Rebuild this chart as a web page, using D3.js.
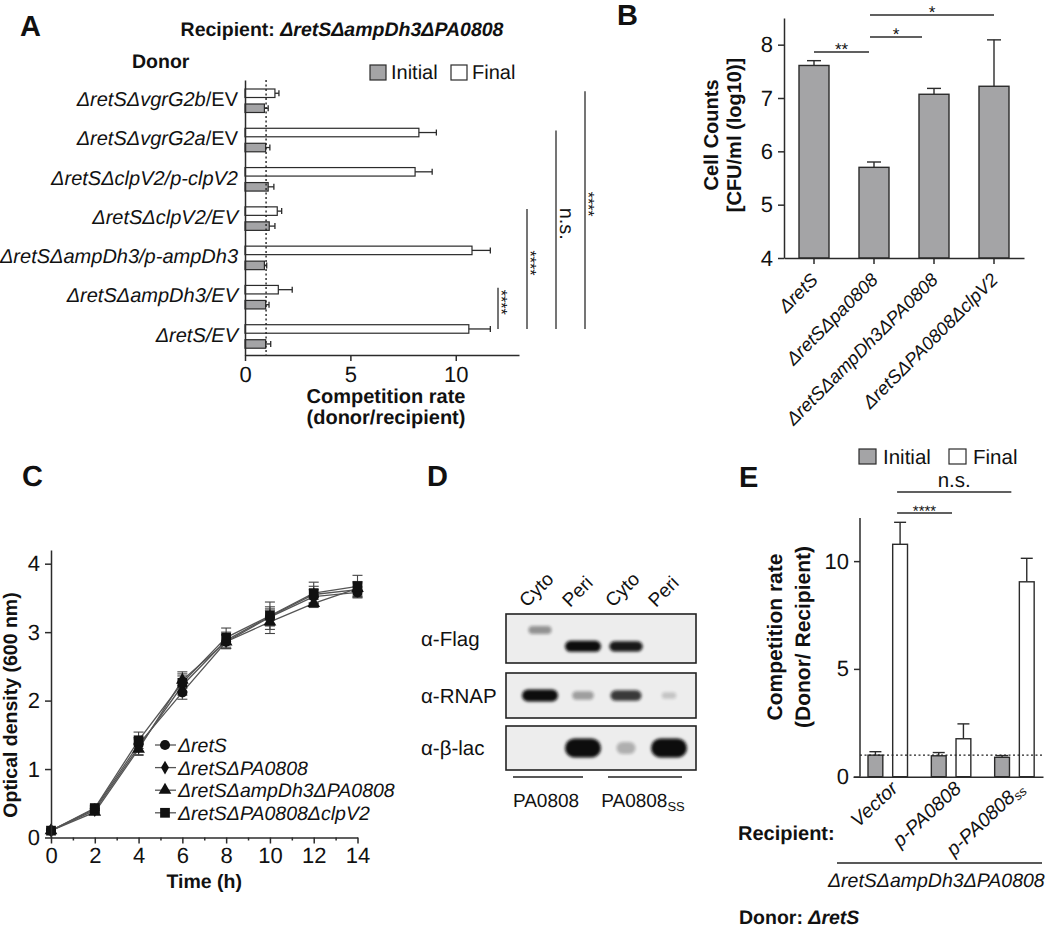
<!DOCTYPE html>
<html>
<head>
<meta charset="utf-8">
<script src="https://cdn.jsdelivr.net/npm/d3@7"></script>
<style>
body { margin: 0; background: #fff; }
svg { display: block; }
</style>
</head>
<body>
<svg width="1050" height="932"></svg>
<script>
// ---- data: panel A (competition, donors vs recipient ΔretSΔampDh3ΔPA0808)
var donorsA = ["ΔretSΔvgrG2b/EV", "ΔretSΔvgrG2a/EV", "ΔretSΔclpV2/p-clpV2", "ΔretSΔclpV2/EV",
               "ΔretSΔampDh3/p-ampDh3", "ΔretSΔampDh3/EV", "ΔretS/EV"];
var donorsAUpright = ["/EV", "/EV", "", "", "", "", ""];   // trailing part set in roman
var initialA = [0.92, 0.98, 1.10, 1.15, 0.92, 0.98, 0.98];
var initialAErr = [0.18, 0.20, 0.27, 0.27, 0.11, 0.16, 0.24];
var finalA = [1.42, 8.25, 8.07, 1.53, 10.77, 1.58, 10.62];
var finalAErr = [0.19, 0.83, 0.81, 0.21, 0.87, 0.66, 1.02];
var ticksA = [0, 5, 10];
var sigA = [
  {from: "ΔretSΔampDh3/EV", to: "ΔretS/EV", label: "****"},
  {from: "ΔretSΔclpV2/EV", to: "ΔretS/EV", label: "****"},
  {from: "ΔretSΔvgrG2a/EV", to: "ΔretS/EV", label: "n.s."},
  {from: "ΔretSΔvgrG2b/EV", to: "ΔretS/EV", label: "****"}
];

// ---- data: panel B (cell counts)
var strainsB = ["ΔretS", "ΔretSΔpa0808", "ΔretSΔampDh3ΔPA0808", "ΔretSΔPA0808ΔclpV2"];
var countsB = [7.61, 5.70, 7.07, 7.22];
var countsBErr = [0.09, 0.10, 0.11, 0.87];
var ticksB = [4, 5, 6, 7, 8];
var sigB = [
  {from: "ΔretS", to: "ΔretSΔpa0808", label: "**"},
  {from: "ΔretSΔpa0808", to: "ΔretSΔampDh3ΔPA0808", label: "*"},
  {from: "ΔretSΔpa0808", to: "ΔretSΔPA0808ΔclpV2", label: "*"}
];

// ---- data: panel C (growth curves)
var hoursC = [0, 2, 4, 6, 8, 10, 12, 14];
var seriesC = ["ΔretS", "ΔretSΔPA0808", "ΔretSΔampDh3ΔPA0808", "ΔretSΔPA0808ΔclpV2"];
var odRetS = [0.10, 0.42, 1.36, 2.12, 2.86, 3.22, 3.52, 3.58];
var odPA0808 = [0.10, 0.40, 1.32, 2.22, 2.88, 3.23, 3.55, 3.62];
var odAmpDh3 = [0.10, 0.37, 1.29, 2.30, 2.86, 3.15, 3.42, 3.64];
var odClpV2 = [0.10, 0.43, 1.42, 2.26, 2.92, 3.24, 3.57, 3.67];
var odRetSErr = [0.02, 0.03, 0.10, 0.10, 0.10, 0.12, 0.10, 0.08];
var odPA0808Err = [0.02, 0.03, 0.12, 0.14, 0.12, 0.14, 0.12, 0.10];
var odAmpDh3Err = [0.02, 0.03, 0.08, 0.12, 0.10, 0.17, 0.06, 0.10];
var odClpV2Err = [0.02, 0.04, 0.12, 0.13, 0.14, 0.20, 0.16, 0.16];
var ticksCX = [0, 2, 4, 6, 8, 10, 12, 14];
var minorCX = [1, 3, 5, 7, 9, 11, 13];
var ticksCY = [0, 1, 2, 3, 4];

// ---- data: panel D (western blot fractions)
var lanesD = ["Cyto", "Peri", "Cyto ", "Peri "];
var antibodiesD = ["α-Flag", "α-RNAP", "α-β-lac"];
var bandFlag = [0.25, 1.0, 0.8, 0.0];
var bandRNAP = [1.0, 0.2, 0.65, 0.03];
var bandBlac = [0.0, 1.0, 0.12, 1.0];
var samplesD = ["PA0808", "PA0808"];

// ---- data: panel E (competition, donor ΔretS)
var recipientsE = ["Vector", "p-PA0808", "p-PA0808ss"];
var initialE = [1.00, 0.97, 0.90];
var initialEErr = [0.16, 0.15, 0.08];
var finalE = [10.78, 1.76, 9.04];
var finalEErr = [1.02, 0.69, 1.09];
var ticksE = [0, 5, 10];
var sigE = [
  {from: "Vector", to: "p-PA0808", label: "****"},
  {from: "Vector", to: "p-PA0808ss", label: "n.s."}
];

var FONT = '"Liberation Sans", Arial, Helvetica, sans-serif';
var ink = "#2b2b2b", grayFill = "#a4a4a6";
var svg = d3.select("svg").attr("font-family", FONT).attr("fill", "#111")
  .attr("text-rendering", "geometricPrecision");
var fmt = d3.format("d");

function styleAxis(g, size) {
  g.attr("font-family", FONT);
  g.selectAll("path.domain").attr("stroke", ink).attr("stroke-width", 1.5);
  g.selectAll(".tick line").attr("stroke", ink).attr("stroke-width", 1.5);
  g.selectAll(".tick text").attr("fill", "#111").attr("font-size", size);
}

// panel letters
[["A", 20, 36], ["B", 617, 25], ["C", 22, 486], ["D", 427, 486], ["E", 739, 487]].forEach(function(p) {
  svg.append("text").attr("x", p[1]).attr("y", p[2]).attr("font-size", 29)
    .attr("font-weight", "bold").text(p[0]);
});

// ================= Panel A =================
(function() {
  var xA = d3.scaleLinear().domain([0, 13]).range([245, 519]);
  var yA = d3.scaleBand().domain(donorsA).range([80, 355]);
  var subA = d3.scaleBand().domain(["Final", "Initial"]).range([9, 39]);
  var bh = 8.5;
  var g = svg.append("g");

  var t = g.append("text").attr("x", 342).attr("y", 36).attr("text-anchor", "middle")
    .attr("font-size", 19.5).attr("font-weight", "bold");
  t.append("tspan").text("Recipient: ");
  t.append("tspan").attr("font-style", "italic").text("ΔretSΔampDh3ΔPA0808");

  g.append("text").attr("x", 132).attr("y", 68).attr("font-size", 19.5)
    .attr("font-weight", "bold").text("Donor");

  // legend
  [["Initial", grayFill, 370], ["Final", "#fff", 451]].forEach(function(l) {
    g.append("rect").attr("x", l[2]).attr("y", 65).attr("width", 16).attr("height", 15)
      .attr("fill", l[1]).attr("stroke", ink).attr("stroke-width", 1.2);
    g.append("text").attr("x", l[2] + 21).attr("y", 79).attr("font-size", 20).text(l[0]);
  });

  donorsA.forEach(function(d, i) {
    var y0 = yA(d);
    [["Final", finalA[i], finalAErr[i], "#fff"], ["Initial", initialA[i], initialAErr[i], grayFill]].forEach(function(b) {
      var yy = y0 + subA(b[0]);
      g.append("rect").attr("x", xA(0)).attr("y", yy).attr("width", xA(b[1]) - xA(0)).attr("height", bh)
        .attr("fill", b[3]).attr("stroke", ink).attr("stroke-width", 1.2);
      var cy = yy + bh / 2;
      g.append("line").attr("x1", xA(b[1])).attr("x2", xA(b[1] + b[2])).attr("y1", cy).attr("y2", cy)
        .attr("stroke", ink).attr("stroke-width", 1.3);
      g.append("line").attr("x1", xA(b[1] + b[2])).attr("x2", xA(b[1] + b[2])).attr("y1", cy - 3).attr("y2", cy + 3)
        .attr("stroke", ink).attr("stroke-width", 1.3);
    });
  });

  // reference line at 1
  g.append("line").attr("x1", xA(1)).attr("x2", xA(1)).attr("y1", 80).attr("y2", 355)
    .attr("stroke", "#222").attr("stroke-width", 1.4).attr("stroke-dasharray", "2,2.5");

  var ay = g.append("g").attr("transform", "translate(" + xA(0) + ",0)")
    .call(d3.axisLeft(yA).tickSize(0).tickPadding(7).tickSizeOuter(0));
  styleAxis(ay, 20);
  ay.selectAll(".tick text").each(function(d, i) {
    var s = d3.select(this), up = donorsAUpright[i];
    s.text(null);
    s.append("tspan").attr("font-style", "italic").text(up ? d.slice(0, d.length - up.length) : d);
    if (up) s.append("tspan").text(up);
  });

  var ax = g.append("g").attr("transform", "translate(0,355)")
    .call(d3.axisBottom(xA).tickValues(ticksA).tickFormat(fmt).tickSize(6).tickSizeOuter(0).tickPadding(5));
  styleAxis(ax, 22);

  g.append("text").attr("x", 386).attr("y", 403).attr("text-anchor", "middle").attr("font-size", 20)
    .attr("font-weight", "bold").text("Competition rate");
  g.append("text").attr("x", 386).attr("y", 424).attr("text-anchor", "middle").attr("font-size", 20)
    .attr("font-weight", "bold").text("(donor/recipient)");

  // significance brackets
  sigA.forEach(function(s, i) {
    var x = 498 + i * 29;
    var y1 = yA(s.from) + subA("Final") + bh / 2 - 2, y2 = yA(s.to) + subA("Final") + bh / 2;
    g.append("line").attr("x1", x).attr("x2", x).attr("y1", y1).attr("y2", y2)
      .attr("stroke", ink).attr("stroke-width", 1.3);
    var stars = s.label.indexOf("*") >= 0;
    g.append("text").attr("x", 0).attr("y", 0)
      .attr("transform", "translate(" + (x + (stars ? -2 : 4)) + "," + ((y1 + y2) / 2 - 6) + ") rotate(90)")
      .attr("text-anchor", "middle").attr("font-size", stars ? 16 : 20).attr("fill", "#111").text(s.label);
  });
})();

// ================= Panel B =================
(function() {
  var yB = d3.scaleLinear().domain([4, 8.5]).range([258, 18]);
  var xB = d3.scaleBand().domain(strainsB).range([784, 1024]).paddingInner(0.5).paddingOuter(0.25);
  var g = svg.append("g");

  strainsB.forEach(function(d, i) {
    var cx = xB(d) + xB.bandwidth() / 2;
    g.append("line").attr("x1", cx).attr("x2", cx).attr("y1", yB(countsB[i])).attr("y2", yB(countsB[i] + countsBErr[i]))
      .attr("stroke", ink).attr("stroke-width", 1.4);
    g.append("line").attr("x1", cx - 7).attr("x2", cx + 7).attr("y1", yB(countsB[i] + countsBErr[i])).attr("y2", yB(countsB[i] + countsBErr[i]))
      .attr("stroke", ink).attr("stroke-width", 1.4);
    g.append("rect").attr("x", xB(d)).attr("y", yB(countsB[i])).attr("width", xB.bandwidth())
      .attr("height", yB(4) - yB(countsB[i])).attr("fill", grayFill).attr("stroke", ink).attr("stroke-width", 1.4);
  });

  var ay = g.append("g").attr("transform", "translate(784,0)")
    .call(d3.axisLeft(yB).tickValues(ticksB).tickFormat(fmt).tickSize(6).tickSizeOuter(0).tickPadding(5));
  styleAxis(ay, 22);
  var ax = g.append("g").attr("transform", "translate(0,258)")
    .call(d3.axisBottom(xB).tickSize(6).tickSizeOuter(0).tickFormat(""));
  styleAxis(ax, 18);

  strainsB.forEach(function(d) {
    var cx = xB(d) + xB.bandwidth() / 2;
    g.append("text").attr("transform", "translate(" + (cx + 5) + ",281) rotate(-45)")
      .attr("text-anchor", "end").attr("font-size", 18.5).attr("font-style", "italic").text(d);
  });

  g.append("text").attr("transform", "translate(718,135) rotate(-90)").attr("text-anchor", "middle")
    .attr("font-size", 20).attr("font-weight", "bold").text("Cell Counts");
  g.append("text").attr("transform", "translate(741,135) rotate(-90)").attr("text-anchor", "middle")
    .attr("font-size", 20).attr("font-weight", "bold").text("[CFU/ml (log10)]");

  var levels = [52, 37, 15];
  sigB.forEach(function(s, i) {
    var x1 = xB(s.from) + xB.bandwidth() / 2 - (i ? 4 : 0);
    var x2 = xB(s.to) + xB.bandwidth() / 2 - (i === 1 ? 12 : 5);
    if (i === 2) x2 = xB(s.to) + xB.bandwidth() / 2;
    g.append("line").attr("x1", x1).attr("x2", x2).attr("y1", levels[i]).attr("y2", levels[i])
      .attr("stroke", ink).attr("stroke-width", 1.3);
    g.append("text").attr("x", (x1 + x2) / 2).attr("y", levels[i] + 3).attr("text-anchor", "middle")
      .attr("font-size", 17).text(s.label);
  });
})();

// ================= Panel C =================
(function() {
  var xC = d3.scaleLinear().domain([0, 14]).range([51, 357.5]);
  var yC = d3.scaleLinear().domain([0, 4.2]).range([837.5, 550]);
  var g = svg.append("g");
  var vals = [odRetS, odPA0808, odAmpDh3, odClpV2];
  var errs = [odRetSErr, odPA0808Err, odAmpDh3Err, odClpV2Err];
  var shapes = [d3.symbolCircle, d3.symbolDiamond, d3.symbolTriangle, d3.symbolSquare];
  var sizes = [80, 55, 70, 95];
  var lineC = d3.line().x(function(d) { return xC(d[0]); }).y(function(d) { return yC(d[1]); });

  vals.forEach(function(v, s) {
    var pts = hoursC.map(function(h, i) { return [h, v[i], errs[s][i]]; });
    pts.forEach(function(p) {
      var x = xC(p[0]);
      g.append("line").attr("x1", x).attr("x2", x).attr("y1", yC(p[1] - p[2])).attr("y2", yC(p[1] + p[2]))
        .attr("stroke", "#444").attr("stroke-width", 1.1);
      [p[1] - p[2], p[1] + p[2]].forEach(function(e) {
        g.append("line").attr("x1", x - 5).attr("x2", x + 5).attr("y1", yC(e)).attr("y2", yC(e))
          .attr("stroke", "#444").attr("stroke-width", 1.1);
      });
    });
    g.append("path").datum(pts).attr("d", lineC).attr("fill", "none")
      .attr("stroke", "#555").attr("stroke-width", 1.3);
  });
  vals.forEach(function(v, s) {
    hoursC.forEach(function(h, i) {
      g.append("path").attr("d", d3.symbol().type(shapes[s]).size(sizes[s]))
        .attr("transform", "translate(" + xC(h) + "," + yC(v[i]) + ")").attr("fill", "#111");
    });
  });

  var ay = g.append("g").attr("transform", "translate(" + xC(0) + ",0)")
    .call(d3.axisLeft(yC).tickValues(ticksCY).tickFormat(fmt).tickSize(6).tickSizeOuter(0).tickPadding(5));
  styleAxis(ay, 22);
  var ax = g.append("g").attr("transform", "translate(0," + yC(0) + ")")
    .call(d3.axisBottom(xC).tickValues(ticksCX).tickFormat(fmt).tickSize(6).tickSizeOuter(0).tickPadding(4));
  styleAxis(ax, 22);
  var am = g.append("g").attr("transform", "translate(0," + yC(0) + ")")
    .call(d3.axisBottom(xC).tickValues(minorCX).tickSize(3).tickFormat(""));
  styleAxis(am, 10);
  am.select("path.domain").remove();

  g.append("text").attr("transform", "translate(17,705) rotate(-90)").attr("text-anchor", "middle")
    .attr("font-size", 19.5).attr("font-weight", "bold").text("Optical density (600 nm)");
  g.append("text").attr("x", xC(7)).attr("y", 888).attr("text-anchor", "middle")
    .attr("font-size", 19.5).attr("font-weight", "bold").text("Time (h)");

  // legend
  seriesC.forEach(function(name, s) {
    var y = 745 + s * 22.6;
    g.append("line").attr("x1", 155).attr("x2", 176).attr("y1", y).attr("y2", y)
      .attr("stroke", "#555").attr("stroke-width", 1.3);
    g.append("path").attr("d", d3.symbol().type(shapes[s]).size(sizes[s]))
      .attr("transform", "translate(165," + y + ")").attr("fill", "#111");
    g.append("text").attr("x", 178).attr("y", y + 7).attr("font-size", 19.5)
      .attr("font-style", "italic").text(name);
  });
})();

// ================= Panel D =================
(function() {
  var g = svg.append("g");
  var lane = d3.scaleBand().domain(lanesD).range([518.5, 690.5]);
  var rowTop = [614, 673, 726], rowH = [49, 45, 44];
  var bandY = [0.66, 0.5, 0.5], bandH = [11, 12, 19];
  var bands = [bandFlag, bandRNAP, bandBlac];

  var defs = svg.append("defs");
  defs.append("filter").attr("id", "blur").attr("x", "-50%").attr("y", "-80%").attr("width", "200%").attr("height", "260%")
    .append("feGaussianBlur").attr("stdDeviation", 1.8);

  antibodiesD.forEach(function(ab, r) {
    g.append("rect").attr("x", 506).attr("y", rowTop[r]).attr("width", 190).attr("height", rowH[r])
      .attr("fill", "#ededed").attr("stroke", "#222").attr("stroke-width", 1.6);
    g.append("text").attr("x", 421).attr("y", rowTop[r] + rowH[r] / 2 + 7).attr("font-size", 20.5).text(ab);
    lanesD.forEach(function(l, i) {
      var v = bands[r][i];
      if (v <= 0) return;
      var w = 10 + 26 * Math.sqrt(v);
      var h = bandH[r] * (0.45 + 0.55 * Math.sqrt(v));
      var cx = lane(l) + lane.bandwidth() / 2;
      var cy = rowTop[r] + rowH[r] * bandY[r];
      if (r === 0 && i === 0) cy = rowTop[r] + 16;
      g.append("rect").attr("x", cx - w / 2).attr("y", cy - h / 2).attr("width", w).attr("height", h)
        .attr("rx", h / 2).attr("fill", "#0d0d0d").attr("opacity", Math.min(1, 0.15 + v))
        .attr("filter", "url(#blur)");
    });
  });

  // rotated lane names
  lanesD.forEach(function(l) {
    var x0 = lane(l) + lane.bandwidth() / 2 - 13, y0 = 608;
    g.append("text").attr("x", x0).attr("y", y0)
      .attr("transform", "rotate(-45," + x0 + "," + y0 + ")")
      .attr("font-size", 19).text(l.trim());
  });

  // sample groups
  [[513, 583], [608, 682]].forEach(function(span, k) {
    g.append("line").attr("x1", span[0]).attr("x2", span[1]).attr("y1", 777).attr("y2", 777)
      .attr("stroke", "#222").attr("stroke-width", 1.5);
    var t = g.append("text").attr("x", (span[0] + span[1]) / 2 - 2).attr("y", 807).attr("text-anchor", "middle")
      .attr("font-size", 19).text(samplesD[k]);
    if (k === 1) t.append("tspan").attr("font-size", 13).attr("dy", 4).text("SS");
  });
})();

// ================= Panel E =================
(function() {
  var yE = d3.scaleLinear().domain([0, 12]).range([776.7, 518]);
  var xE = d3.scaleBand().domain(recipientsE).range([853, 1043]);
  var subE = d3.scaleBand().domain(["Initial", "Final"]).range([15, 54.5]).paddingInner(0.4);
  var g = svg.append("g");

  [["Initial", grayFill, 859], ["Final", "#fff", 949]].forEach(function(l) {
    g.append("rect").attr("x", l[2]).attr("y", 449).attr("width", 17).attr("height", 15)
      .attr("fill", l[1]).attr("stroke", ink).attr("stroke-width", 1.2);
    g.append("text").attr("x", l[2] + 24).attr("y", 464).attr("font-size", 20.5).text(l[0]);
  });

  recipientsE.forEach(function(d, i) {
    [["Initial", initialE[i], initialEErr[i], grayFill], ["Final", finalE[i], finalEErr[i], "#fff"]].forEach(function(b) {
      var x = xE(d) + subE(b[0]), cx = x + subE.bandwidth() / 2;
      g.append("line").attr("x1", cx).attr("x2", cx).attr("y1", yE(b[1])).attr("y2", yE(b[1] + b[2]))
        .attr("stroke", ink).attr("stroke-width", 1.4);
      g.append("line").attr("x1", cx - 6).attr("x2", cx + 6).attr("y1", yE(b[1] + b[2])).attr("y2", yE(b[1] + b[2]))
        .attr("stroke", ink).attr("stroke-width", 1.4);
      g.append("rect").attr("x", x).attr("y", yE(b[1])).attr("width", subE.bandwidth())
        .attr("height", yE(0) - yE(b[1])).attr("fill", b[3]).attr("stroke", ink).attr("stroke-width", 1.4);
    });
  });

  g.append("line").attr("x1", 860).attr("x2", 1043).attr("y1", yE(1)).attr("y2", yE(1))
    .attr("stroke", "#222").attr("stroke-width", 1.4).attr("stroke-dasharray", "2,2.5");

  var ay = g.append("g").attr("transform", "translate(860,0)")
    .call(d3.axisLeft(yE).tickValues(ticksE).tickFormat(fmt).tickSize(6).tickSizeOuter(0).tickPadding(5));
  styleAxis(ay, 22);
  ay.select("path.domain").attr("d", "M0," + yE(0) + "V" + yE(12));
  var ax = g.append("g").attr("transform", "translate(0," + yE(0) + ")")
    .call(d3.axisBottom(xE).tickSize(0).tickFormat(""));
  styleAxis(ax, 10);

  recipientsE.forEach(function(d) {
    var t = g.append("text").attr("transform", "translate(" + (xE(d) + 46) + ",790) rotate(-43)")
      .attr("text-anchor", "end").attr("font-size", 19.5).attr("font-style", "italic");
    if (d.slice(-2) === "ss") {
      t.append("tspan").text(d.slice(0, -2));
      t.append("tspan").attr("font-size", 13).attr("dy", 3).text("ss");
    } else {
      t.text(d);
    }
  });

  var levels = [513, 492];
  sigE.forEach(function(s, i) {
    var x1 = xE(s.from) + subE("Final") + subE.bandwidth() / 2 - 3;
    var x2 = xE(s.to) + xE.bandwidth() / 2 + (i ? 0 : 4);
    g.append("line").attr("x1", x1).attr("x2", x2).attr("y1", levels[i]).attr("y2", levels[i])
      .attr("stroke", ink).attr("stroke-width", 1.3);
    var stars = s.label.indexOf("*") >= 0;
    g.append("text").attr("x", (x1 + x2) / 2).attr("y", levels[i] + (stars ? 3 : -5)).attr("text-anchor", "middle")
      .attr("font-size", stars ? 15 : 20.5).text(s.label);
  });

  g.append("text").attr("transform", "translate(782,637) rotate(-90)").attr("text-anchor", "middle")
    .attr("font-size", 21).attr("font-weight", "bold").text("Competition rate");
  g.append("text").attr("transform", "translate(810,637) rotate(-90)").attr("text-anchor", "middle")
    .attr("font-size", 21).attr("font-weight", "bold").text("(Donor/ Recipient)");

  g.append("text").attr("x", 738).attr("y", 840).attr("font-size", 20).attr("font-weight", "bold").text("Recipient:");
  g.append("line").attr("x1", 837).attr("x2", 1042).attr("y1", 863).attr("y2", 863)
    .attr("stroke", "#222").attr("stroke-width", 1.5);
  g.append("text").attr("x", 828).attr("y", 887).attr("font-size", 19.5).attr("font-style", "italic")
    .text("ΔretSΔampDh3ΔPA0808");
  var dn = g.append("text").attr("x", 739).attr("y", 924).attr("font-size", 19.5).attr("font-weight", "bold");
  dn.append("tspan").text("Donor: ");
  dn.append("tspan").attr("font-style", "italic").text("ΔretS");
})();
</script>
</body>
</html>
